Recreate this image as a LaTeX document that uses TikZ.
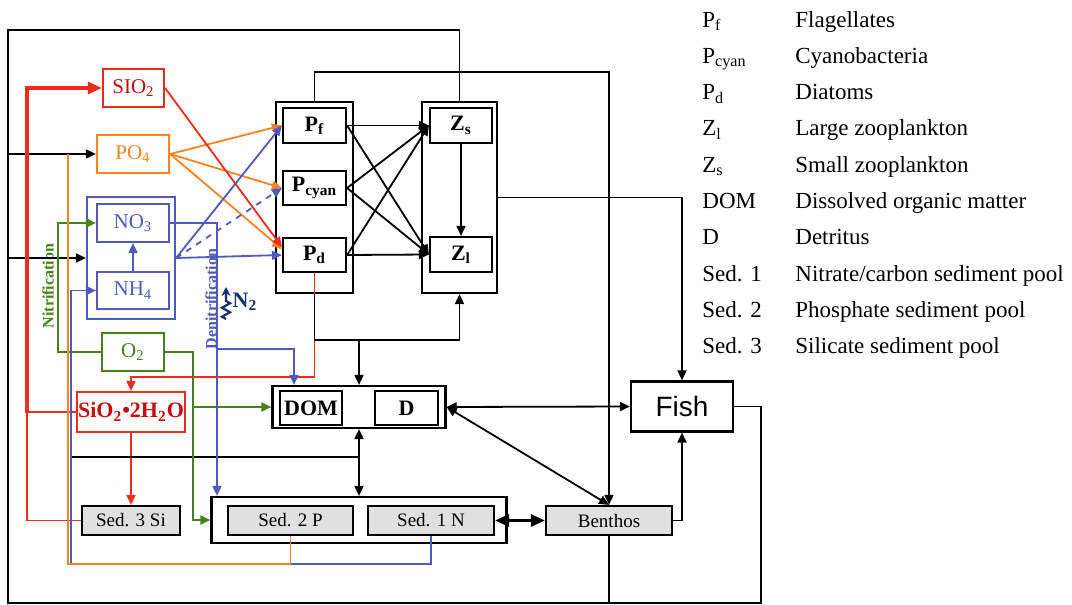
\documentclass[tikz,border=0pt]{standalone}
\usepackage{fontspec}
\setmainfont{Liberation Serif}
\newfontfamily\fishfont{Liberation Sans}
\usetikzlibrary{arrows.meta,calc,decorations.pathmorphing}
\definecolor{nutred}{RGB}{235,45,25}
\definecolor{darkred}{RGB}{200,10,15}
\definecolor{nutorange}{RGB}{255,130,30}
\definecolor{nutblue}{RGB}{80,90,190}
\definecolor{nutgreen}{RGB}{70,130,25}
\definecolor{navyblue}{RGB}{20,50,115}
\definecolor{sedgray}{RGB}{224,224,224}
\tikzset{
  wh/.style 2 args={minimum width=#1, minimum height=#2},
  group/.style={rectangle, draw, line width=1.1pt, inner sep=0pt},
  block/.style={group, font=\fontsize{11}{12}\selectfont\bfseries},
  nut/.style={group, font=\fontsize{10.5}{12}\selectfont},
  sed/.style={group, fill=sedgray, font=\fontsize{9.5}{11}\selectfont},
  line/.style={line width=0.9pt},
  arrow/.style={line, -{Triangle[length=5pt,width=4.5pt]}},
  dblarrow/.style={line, {Triangle[length=5pt,width=4.5pt]}-{Triangle[length=5pt,width=4.5pt]}},
  arrowred/.style={arrow, nutred},
  arroworange/.style={arrow, nutorange},
  arrowblue/.style={arrow, nutblue},
  arrowgreen/.style={arrow, nutgreen},
  sidelabel/.style={rotate=90, inner sep=0pt, font=\fontsize{8}{9}\selectfont\bfseries},
  legend/.style={anchor=base west, inner sep=0pt, font=\fontsize{11.5}{13}\selectfont},
}

\begin{document}
\begin{tikzpicture}[x=0.5pt, y=-0.5pt]
\useasboundingbox (0,0) rectangle (1072,605);

% Nutrients
\node[nut, draw=nutred, text=darkred, wh={30.5pt}{19pt}] (sio2) at (133.5,88) {SIO\textsubscript{2}};
\node[nut, draw=nutorange, text=nutorange, wh={36pt}{19pt}] (po4) at (133,154) {PO\textsubscript{4}};
\node[group, draw=nutblue, wh={44pt}{61pt}] (nbox) at (131,258) {};
\node[nut, draw=nutblue, text=nutblue, wh={36pt}{19pt}] (no3) at (133,223) {NO\textsubscript{3}};
\node[nut, draw=nutblue, text=nutblue, wh={36pt}{18.5pt}] (nh4) at (133,290.5) {NH\textsubscript{4}};
\node[nut, draw=nutgreen, text=nutgreen, wh={31pt}{19pt}] (o2) at (133,352) {O\textsubscript{2}};
\node[block, draw=nutred, text=darkred, wh={54pt}{20pt}] (sio2h) at (131,412) {SiO\textsubscript{2}\textbullet2H\textsubscript{2}O};

% Plankton
\node[group, wh={38.5pt}{95.5pt}] (pbox) at (314.5,197.5) {};
\node[block, wh={31.5pt}{17.5pt}] (pf) at (314.5,125.5) {P\textsubscript{f}};
\node[block, wh={31.5pt}{17pt}] (pcyan) at (314.5,188) {P\textsubscript{cyan}};
\node[block, wh={31.5pt}{17pt}] (pd) at (314.5,255) {P\textsubscript{d}};
\node[group, wh={37.5pt}{95.5pt}] (zbox) at (459.5,197.5) {};
\node[block, wh={31pt}{17.5pt}] (zs) at (461,125.5) {Z\textsubscript{s}};
\node[block, wh={31pt}{17.5pt}] (zl) at (461,254.5) {Z\textsubscript{l}};

% Organic matter, sediments, higher trophic levels
\node[group, wh={86.5pt}{21pt}] (dbox) at (359,407) {};
\node[block, wh={31pt}{17pt}] (dom) at (311,408) {DOM};
\node[block, wh={31.5pt}{17pt}] (det) at (406.5,408) {D};
\node[group, wh={147.5pt}{23pt}] (sedbox) at (359,520) {};
\node[sed, wh={62.5pt}{14.5pt}] (sed2) at (290.5,520.5) {Sed. 2 P};
\node[sed, wh={63pt}{14.5pt}] (sed1) at (431,520.5) {Sed. 1 N};
\node[sed, wh={49pt}{14.5pt}] (sed3) at (131,520.5) {Sed. 3 Si};
\node[group, wh={51pt}{25pt}, font=\fishfont\fontsize{14}{16}\selectfont] (fish) at (682,406.5) {Fish};
\node[sed, wh={63pt}{14.5pt}] (benthos) at (609,520.5) {Benthos};

% Labels
\node[sidelabel, text=nutgreen] (nitri) at (48,286) {Nitrification};
\node[sidelabel, text=nutblue] (denitri) at (211,299) {Denitrification};
\node[inner sep=0pt, text=navyblue, font=\fontsize{11}{12}\selectfont\bfseries] (n2) at (245,302) {N\textsubscript{2}};
\coordinate (n2base) at (226,319);
\draw[navyblue, line width=1.1pt, -{Stealth[length=4.5pt,width=4.5pt]}, decorate,
  decoration={zigzag, amplitude=2pt, segment length=4.5pt, post length=5pt}] (n2base) -- ++(0,16pt);

% Frame
\coordinate (fl) at (8,0);
\draw[line] (zbox.north) |- (fl |- 0,30) |- (761,603) |- (fish.east);
\draw[line] (benthos.south) -- (benthos.south |- 0,603);
\draw[arrow] (fl |- po4.west) -- (po4.west);
\draw[arrow] (fl |- nbox.west) -- (nbox.west);

% Uptake
\foreach \p in {pf,pcyan}
  \draw[arroworange] (po4.east) -- (\p.west);
\draw[arroworange] (po4.east) -- ([yshift=3pt]pd.west);
\draw[arrowred] (sio2.east) -- ([yshift=4pt]pd.west);
\draw[arrowblue] (nbox.east) -- (pf.west);
\draw[arrowblue, dashed] (nbox.east) -- (pcyan.west);
\draw[arrowblue] (nbox.east) -- (pd.west);
\draw[arrowblue] (nh4) -- (no3);

% Grazing
\foreach \p in {pf,pcyan,pd}
  \foreach \z in {zs,zl}
    \draw[arrow] (\p.east) -- (\z.west);
\draw[arrow] (zs) -- (zl);

% Red: silicate
\draw[arrowred] (pd.south) |- (131,377) -- (sio2h.north);
\draw[arrowred] (sio2h.south) -- (sed3.north);
\draw[line, nutred] (sed3.west) -| (27,412) -- (sio2h.west);
\draw[nutred, line width=1.6pt, -{Triangle[length=7pt,width=6pt]}] (27,413) |- (sio2.west);

% Mortality and fish
\draw[arrow] (pbox.south) -- ++(0,46) -| (zbox.south);
\draw[arrow] (dbox.north |- 0,339) -- (dbox.north);
\draw[arrow] (pbox.north) |- (609,72) -- (benthos.north);
\draw[arrow] (zbox.east) -| (fish.north);
\draw[arrow] (benthos.east) -| (fish.south);
\draw[dblarrow] (dbox.east) -- (fish.west);
\draw[dblarrow] (dbox.east) -- (benthos.north);
\draw[line width=1.4pt, {Triangle[length=7pt,width=6pt]}-{Triangle[length=7pt,width=6pt]}] (sed1.east) -- (benthos.west);
\draw[dblarrow] (dbox.south) -- (sedbox.north);
\draw[line] (71,457) -- (dbox.south |- 0,457);

% Green: oxygen
\draw[arrowgreen] (o2.west) -| (58,223) -- (no3.west);
\draw[arrowgreen] (o2.east) -| (193,520) -- (sedbox.west);
\draw[arrowgreen] (193,407) -- (dbox.west);

% Blue: nitrogen
\draw[arrowblue] (no3.east) -| (sedbox.north -| 217,0);
\draw[arrowblue] (217,349) -| ([xshift=-32.5pt]dbox.north);
\draw[arrowblue] (sed1.south) |- (71,564) |- (nh4.west);

% Orange: phosphate
\coordinate (po4in) at (68,154);
\draw[line, nutorange] (sed2.south) |- (68,564) -- (po4in);

% Legend
\foreach \sym/\txt [count=\i] in {P\textsubscript{f}/Flagellates, P\textsubscript{cyan}/Cyanobacteria,
    P\textsubscript{d}/Diatoms, Z\textsubscript{l}/Large zooplankton, Z\textsubscript{s}/Small zooplankton,
    DOM/Dissolved organic matter, D/Detritus, Sed. 1/{Nitrate/carbon sediment pool},
    Sed. 2/Phosphate sediment pool, Sed. 3/Silicate sediment pool} {
  \node[legend] (lsym\i) at (702,{27+36.3*(\i-1)}) {\sym};
  \node[legend] (ltxt\i) at (795,{27+36.3*(\i-1)}) {\txt};
}
\end{tikzpicture}
\end{document}
